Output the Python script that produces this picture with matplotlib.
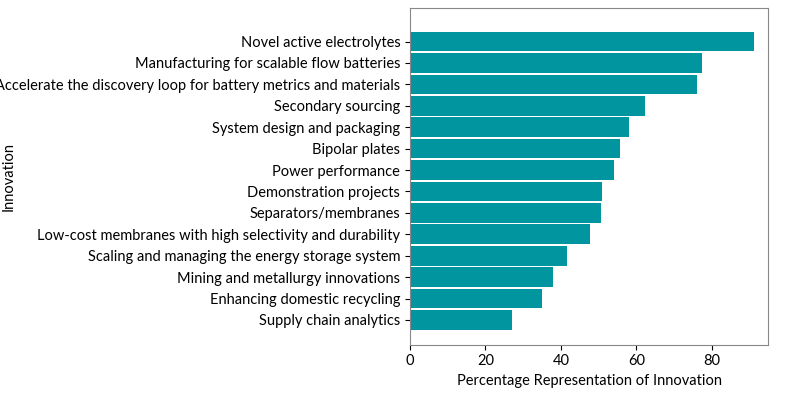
import matplotlib.pyplot as plt

plt.rcParams["font.family"] = "Lato"

categories = [
    "Novel active electrolytes",
    "Manufacturing for scalable flow batteries",
    "Accelerate the discovery loop for battery metrics and materials",
    "Secondary sourcing",
    "System design and packaging",
    "Bipolar plates",
    "Power performance",
    "Demonstration projects",
    "Separators/membranes",
    "Low-cost membranes with high selectivity and durability",
    "Scaling and managing the energy storage system",
    "Mining and metallurgy innovations",
    "Enhancing domestic recycling",
    "Supply chain analytics",
]
values = [91.2, 77.4, 76.0, 62.3, 58.1, 55.6, 54.2, 51.0, 50.6, 47.7, 41.6, 37.8, 35.1, 27.0]
xticks = [0, 20, 40, 60, 80]

fig = plt.figure(figsize=(8, 4.08), dpi=100)
ax = fig.add_axes([0.5125, 0.155, 0.448, 0.825])

y = list(range(len(categories)))[::-1]
ax.barh(y, values, height=0.92, color="#00959f", edgecolor="none")
ax.set_yticks(y)
ax.set_yticklabels(categories, fontsize=10.5)
ax.set_xticks(xticks)
ax.tick_params(axis="x", labelsize=10.5)
ax.set_xlim(0, 95)
ax.set_ylim(-1.16, 14.56)
ax.set_xlabel("Percentage Representation of Innovation", fontsize=10.5)
ax.set_ylabel("Innovation", fontsize=10.5)
ax.yaxis.set_label_coords(-1.1, 0.5)
for s in ax.spines.values():
    s.set_color("#888888")

fig.savefig("out.png", dpi=100)
